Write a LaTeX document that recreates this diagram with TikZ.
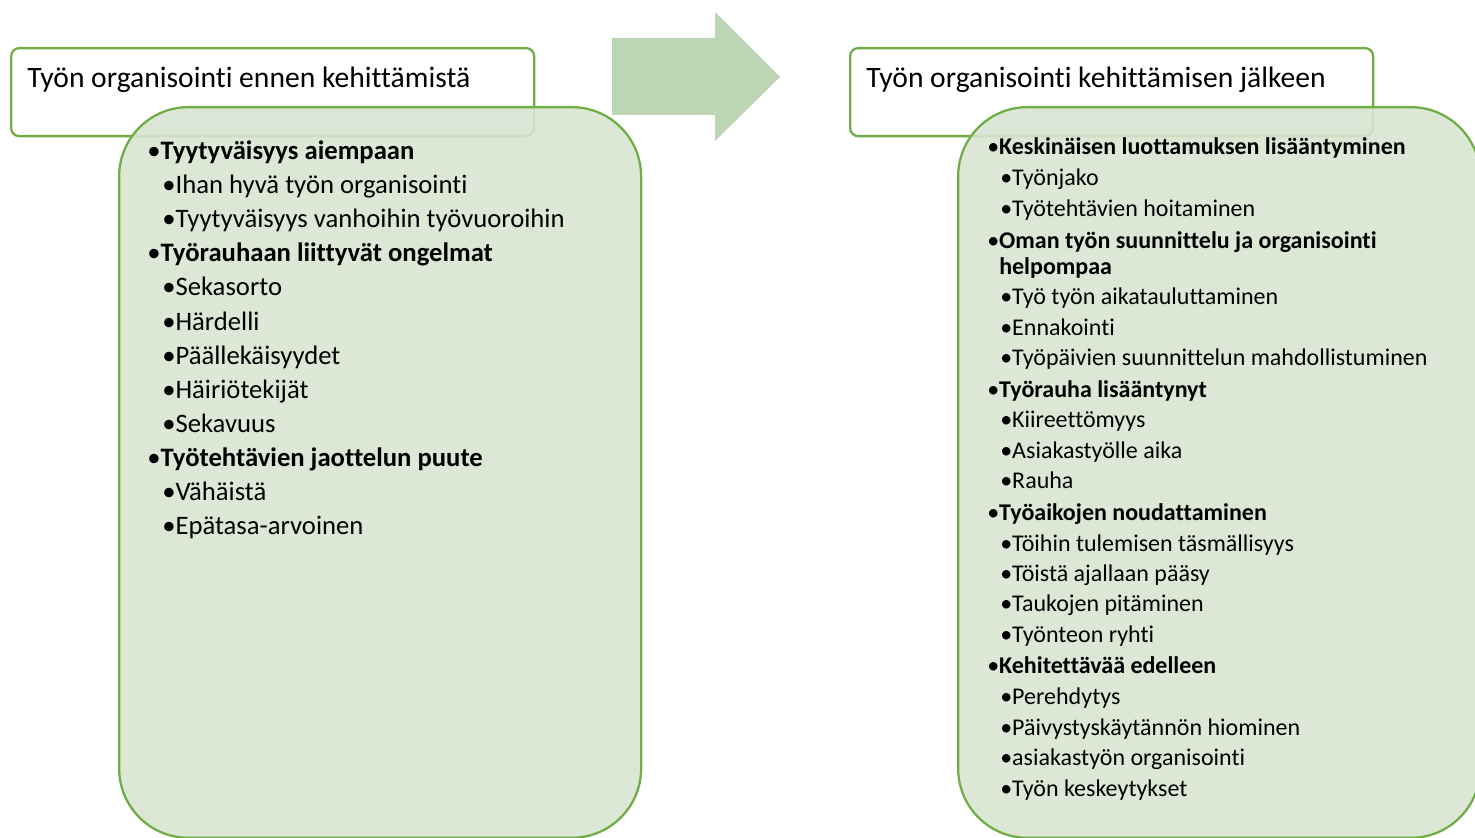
\documentclass[tikz,border=0pt]{standalone}
\usepackage{fontspec}
\setmainfont{Carlito}[Ligatures={NoCommon,NoContextual}]
\usetikzlibrary{positioning}
\definecolor{mygreen}{RGB}{112,173,71}
\definecolor{mylightgreen}{RGB}{216,228,210}
\definecolor{myarrowgreen}{RGB}{188,213,180}

\begin{document}
\begin{tikzpicture}[x=0.75pt,y=-0.75pt,
    titlebox/.style={draw=mygreen, line width=1.7pt, fill=white, rounded corners=6pt,
      anchor=north west, inner sep=0pt, minimum width=392.25pt, minimum height=66pt},
    listbox/.style={draw=mygreen, line width=1.7pt, fill=mylightgreen, fill opacity=0.9,
      draw opacity=1, rounded corners=52pt, anchor=north west, inner sep=0pt,
      minimum width=391.5pt, minimum height=548pt},
    titletext/.style={anchor=base west, inner sep=0pt, font=\fontsize{22.2}{26}\selectfont},
    lefttext/.style={anchor=base west, inner sep=0pt, font=\fontsize{20}{24}\selectfont},
    righttext/.style={anchor=base west, inner sep=0pt, font=\fontsize{18}{22}\selectfont}]

    % Fix the page to the size of the reference
    \useasboundingbox (0,0) rectangle (1475,838);

    % Boxes before the change
    \node[titlebox] (titleL) at (10,47) {};
    \node[titletext] (titleLtext) at (27,88) {Työn organisointi ennen kehittämistä};
    \node[listbox] (listL) at (118,106) {};

    % The big arrow between the two sides
    \fill[myarrowgreen] (612,38) -- (715,38) -- (715,12) -- (780,77) -- (715,141)
      -- (715,115) -- (612,115) -- cycle;

    % Boxes after the change
    \node[titlebox] (titleR) at (849,47) {};
    \node[titletext] (titleRtext) at (866,88) {Työn organisointi kehittämisen jälkeen};
    \node[listbox] (listR) at (957,106) {};

    % Items on the left
    \foreach \x/\txt [count=\i] in {
        147/\textbf{Tyytyväisyys aiempaan},
        162/Ihan hyvä työn organisointi,
        162/Tyytyväisyys vanhoihin työvuoroihin,
        147/\textbf{Työrauhaan liittyvät ongelmat},
        162/Sekasorto,
        162/Härdelli,
        162/Päällekäisyydet,
        162/Häiriötekijät,
        162/Sekavuus,
        147/\textbf{Työtehtävien jaottelun puute},
        162/Vähäistä,
        162/Epätasa-arvoinen}
      \node[lefttext] (left\i) at (\x,{160+(\i-1)*34}) {•\txt};

    % Items on the right
    \foreach \x/\y/\txt [count=\i] in {
        987/155/\textbf{Keskinäisen luottamuksen lisääntyminen},
        1000/186/Työnjako,
        1000/217/Työtehtävien hoitaminen,
        987/248/\textbf{Oman työn suunnittelu ja organisointi},
        999/274/\textbf{helpompaa},
        1000/304/Työ työn aikatauluttaminen,
        1000/335/Ennakointi,
        1000/365/Työpäivien suunnittelun mahdollistuminen,
        987/397/\textbf{Työrauha lisääntynyt},
        1000/427/Kiireettömyys,
        1000/458/Asiakastyölle aika,
        1000/488/Rauha,
        987/520/\textbf{Työaikojen noudattaminen},
        1000/551/Töihin tulemisen täsmällisyys,
        1000/581/Töistä ajallaan pääsy,
        1000/611/Taukojen pitäminen,
        1000/642/Työnteon ryhti,
        987/673/\textbf{Kehitettävää edelleen},
        1000/704/Perehdytys,
        1000/735/Päivystyskäytännön hiominen,
        1000/765/asiakastyön organisointi,
        1000/796/Työn keskeytykset}
      \node[righttext] (right\i) at (\x,\y) {\ifnum\i=5 \else•\fi\txt};
\end{tikzpicture}
\end{document}
